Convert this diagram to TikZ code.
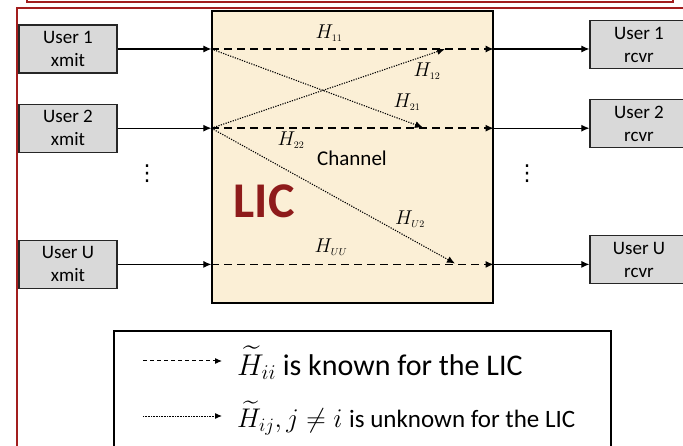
\RequirePackage{fix-cm}
\documentclass[tikz,border=0pt]{standalone}
\usepackage{fontspec}
\setmainfont{Carlito}
\newfontfamily\symfont{DejaVu Sans}
\usepackage{amssymb}
\usetikzlibrary{arrows.meta,positioning,calc}
\definecolor{licred}{HTML}{8E1B1B}
\definecolor{framered}{HTML}{A21E1E}
\definecolor{parch}{HTML}{FBEFD6}
\definecolor{boxgray}{HTML}{D9D9D9}

\begin{document}
\begin{tikzpicture}[x=1pt,y=-1pt,
  font=\fontsize{19}{23}\selectfont,
  usr/.style={rectangle,draw=black!85,line width=1.2pt,fill=boxgray,align=center,minimum width=98pt,minimum height=48pt,inner sep=0pt},
  arr/.style={-{Latex[length=8pt,width=7pt]},line width=1.1pt},
  known/.style={arr,dash pattern=on 8pt off 5pt,line width=1.4pt},
  unk/.style={arr,dash pattern=on 1.2pt off 1.3pt,line width=1.1pt},
  lbl/.style={inner sep=0pt,font=\fontsize{20}{24}\selectfont},
  dots/.style={inner sep=0pt,font=\symfont\fontsize{22}{26}\selectfont},
  leg/.style={inner sep=0pt,anchor=west,font=\fontsize{30}{36}\selectfont}
]
\useasboundingbox (0,0) rectangle (683,446);
\clip (0,0) rectangle (683,446);
% outer frames
\draw[framered,line width=1.5pt] (27,-30) rectangle (673,2);
\draw[framered,line width=1.5pt] (17,8) rectangle (700,470);

% channel
\node[draw,line width=1.3pt,fill=parch,minimum width=281pt,minimum height=292pt,inner sep=0pt] (chan) at (352.5,157) {};

% transmitters and receivers
\node[usr] (x1) at (68,49) {User 1\\xmit};
\node[usr,below=30pt of x1] (x2) {User 2\\xmit};
\node[usr,below=87pt of x2] (xU) {User U\\xmit};
\node[usr] (r1) at (639,44.5) {User 1\\rcvr};
\node[usr,below=30pt of r1] (r2) {User 2\\rcvr};
\node[usr,below=87pt of r2] (rU) {User U\\rcvr};

\foreach \u in {1,2,U} {
  \draw[arr] (x\u) -- (x\u -| chan.west);
  \draw[known] (x\u -| chan.west) -- (x\u -| chan.east);
  \draw[arr] (x\u -| chan.east) -- (x\u -| r\u.west);
}

% cross links
\coordinate (t12) at (445,49);
\coordinate (t21) at (423,127.5);
\coordinate (tU2) at (455,263.5);
\draw[unk] (x1 -| chan.west) -- (t21);
\draw[unk] (x2 -| chan.west) -- (t12);
\draw[unk] (x2 -| chan.west) -- (tU2);

\node[lbl] (h11) at (329,33) {$H_{\scriptscriptstyle 11}$};
\node[lbl] (h12) at (427,71) {$H_{\scriptscriptstyle 12}$};
\node[lbl] (h21) at (407,102) {$H_{\scriptscriptstyle 21}$};
\node[lbl] (h22) at (291,140) {$H_{\scriptscriptstyle 22}$};
\node[lbl] (hu2) at (410,219) {$H_{\scriptscriptstyle U2}$};
\node[lbl] (huu) at (331,247) {$H_{\scriptscriptstyle UU}$};
\node[inner sep=0pt,font=\fontsize{21}{25}\selectfont] (chtxt) at (352,158) {Channel};
\node[inner sep=0pt,text=licred,font=\fontsize{50}{60}\selectfont\bfseries] (lic) at (264,201) {LIC};
\node[dots] (vl) at (147,174) {⋮};
\node[dots] (vr) at (527,174) {⋮};

% legend
\node[draw,line width=1.2pt,minimum width=497pt,minimum height=150pt,inner sep=0pt] (legbox) at (362.5,406) {};
\node[leg] (ktxt) at (237,363) {$\widetilde{H}_{ii}$ is known for the LIC};
\node[leg] (utxt) at (237,418) {{\fontsize{27}{32}\selectfont$\widetilde{H}_{ij}, j \neq i$} \fontsize{25}{30}\selectfont is unknown for the LIC};
\coordinate (k0) at (143,361);
\coordinate (u0) at (143,416);
\draw[-{Latex[length=7pt,width=6pt]},line width=1pt,dash pattern=on 4pt off 3pt] (k0) -- (k0 -| 222,0);
\draw[-{Latex[length=7pt,width=6pt]},line width=1pt,dash pattern=on 0.8pt off 0.8pt] (u0) -- (u0 -| 222,0);
\end{tikzpicture}
\end{document}
